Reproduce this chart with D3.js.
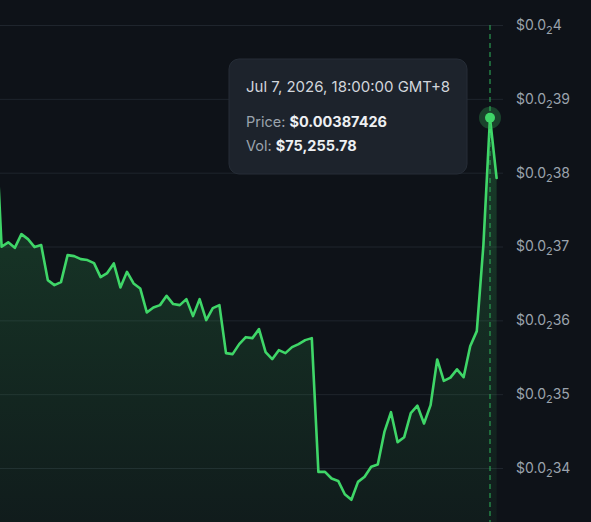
<!DOCTYPE html>
<html>
<head>
<meta charset="utf-8">
<script src="https://cdn.jsdelivr.net/npm/d3@7"></script>
<style>
  html, body { margin: 0; padding: 0; background: #0e1218; }
  svg { display: block; font-family: Inter, "Noto Sans", sans-serif; }
</style>
</head>
<body>
<svg id="chart" width="591" height="522"></svg>
<script>
// ---- data ----
const prices = [
  0.0038848, 0.0036996, 0.0037056, 0.0036982, 0.0037168, 0.0037100, 0.0036992, 0.0037019,
  0.0036545, 0.0036477, 0.0036518, 0.0036883, 0.0036870, 0.0036829, 0.0036816, 0.0036775,
  0.0036585, 0.0036640, 0.0036771, 0.0036446, 0.0036657, 0.0036500, 0.0036432, 0.0036107,
  0.0036175, 0.0036206, 0.0036332, 0.0036220, 0.0036206, 0.0036287, 0.0036057, 0.0036287,
  0.0036003, 0.0036165, 0.0036206, 0.0035556, 0.0035542, 0.0035678, 0.0035772, 0.0035759,
  0.0035881, 0.0035569, 0.0035474, 0.0035596, 0.0035556, 0.0035637, 0.0035678, 0.0035732,
  0.0035759, 0.0033947, 0.0033947, 0.0033858, 0.0033825, 0.0033645, 0.0033570, 0.0033812,
  0.0033882, 0.0034018, 0.0034047, 0.0034489, 0.0034756, 0.0034350, 0.0034417, 0.0034743,
  0.0034844, 0.0034603, 0.0034851, 0.0035470, 0.0035180, 0.0035224, 0.0035336, 0.0035230,
  0.0035650, 0.0035854, 0.0037019, 0.00387426, 0.0037927
];
const yTicks = [0.0034, 0.0035, 0.0036, 0.0037, 0.0038, 0.0039, 0.0040];
const hoverIndex = 75;
const hoverDate = "Jul 7, 2026, 18:00:00 GMT+8";
const hoverPrice = "$0.00387426";
const hoverVol = "$75,255.78";

// ---- layout ----
const W = 591, H = 522;
const plotRight = 503;
const svg = d3.select("#chart");
svg.append("rect").attr("width", W).attr("height", H).attr("fill", "#0e1218");

const x = d3.scaleLinear().domain([0, prices.length - 1]).range([-5, 496.6]);
const y = d3.scaleLinear().domain([0.0034, 0.0040]).range([468, 25]);

// gradient
const defs = svg.append("defs");
const grad = defs.append("linearGradient").attr("id", "areaGrad")
  .attr("gradientUnits", "userSpaceOnUse").attr("x1", 0).attr("x2", 0).attr("y1", 25).attr("y2", H);
grad.append("stop").attr("offset", 0).attr("stop-color", "#3fd668").attr("stop-opacity", 0.26);
grad.append("stop").attr("offset", 1).attr("stop-color", "#3fd668").attr("stop-opacity", 0.05);
defs.append("clipPath").attr("id", "plotClip").append("rect")
  .attr("x", 0).attr("y", 0).attr("width", plotRight).attr("height", H);

// y axis + gridlines
const fmtParts = v => {
  const s = v.toFixed(6).replace(/0+$/, "");
  const dec = s.split(".")[1];
  const zeros = dec.match(/^0*/)[0].length;
  return { zeros, rest: dec.slice(zeros) };
};
const axis = d3.axisRight(y).tickValues(yTicks).tickSize(-plotRight).tickPadding(13).tickFormat(() => "");
const gAxis = svg.append("g").attr("transform", `translate(${plotRight},0)`).call(axis);
gAxis.select(".domain").remove();
gAxis.selectAll(".tick line").attr("stroke", "#1f252d").attr("stroke-width", 1);
gAxis.selectAll(".tick text").each(function(d) {
  const p = fmtParts(d);
  const t = d3.select(this).text(null).attr("fill", "#9ba3ad").attr("font-size", 14)
    .attr("font-family", "Inter, 'Noto Sans', sans-serif").attr("dy", "0.32em");
  t.append("tspan").text("$0.0");
  t.append("tspan").attr("font-size", 11).attr("dy", 4).text(p.zeros);
  t.append("tspan").attr("dy", -4).text(p.rest);
});

// area + line
const plot = svg.append("g").attr("clip-path", "url(#plotClip)");
plot.append("path").datum(prices)
  .attr("fill", "url(#areaGrad)")
  .attr("d", d3.area().x((d, i) => x(i)).y0(H).y1(d => y(d)));
plot.append("path").datum(prices)
  .attr("fill", "none").attr("stroke", "#3fd668").attr("stroke-width", 2.6)
  .attr("stroke-linejoin", "round").attr("stroke-linecap", "round")
  .attr("d", d3.line().x((d, i) => x(i)).y(d => y(d)));

// crosshair
const hx = x(hoverIndex), hy = y(prices[hoverIndex]);
svg.append("line").attr("x1", hx).attr("x2", hx).attr("y1", 25).attr("y2", H)
  .attr("stroke", "#2fb45a").attr("stroke-width", 1).attr("stroke-dasharray", "5,4");
svg.append("circle").attr("cx", hx).attr("cy", hy).attr("r", 11).attr("fill", "#3fd668").attr("fill-opacity", 0.25);
svg.append("circle").attr("cx", hx).attr("cy", hy).attr("r", 5).attr("fill", "#3fd668");

// tooltip
const tip = svg.append("g").attr("transform", "translate(229,59)");
tip.append("rect").attr("width", 238).attr("height", 115).attr("rx", 10)
  .attr("fill", "#1d232c").attr("stroke", "#262d37").attr("stroke-width", 1);
tip.append("text").attr("x", 17).attr("y", 33).attr("font-size", 15).attr("fill", "#d2d6dc").text(hoverDate);
const t1 = tip.append("text").attr("x", 17).attr("y", 68).attr("font-size", 14.5);
t1.append("tspan").attr("fill", "#9ba3ad").text("Price: ");
t1.append("tspan").attr("fill", "#eef0f3").attr("font-weight", 700).text(hoverPrice);
const t2 = tip.append("text").attr("x", 17).attr("y", 92).attr("font-size", 14.5);
t2.append("tspan").attr("fill", "#9ba3ad").text("Vol: ");
t2.append("tspan").attr("fill", "#eef0f3").attr("font-weight", 700).text(hoverVol);
</script>
</body>
</html>
